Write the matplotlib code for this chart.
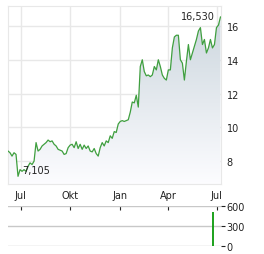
import matplotlib
matplotlib.use("Agg")
import matplotlib.pyplot as plt
import matplotlib.dates as mdates
import numpy as np
import pandas as pd

# price series, roughly every 4 days from early June to early July next year
start_date = "2024-06-07"
end_date = "2025-07-08"
prices = [
    8.6, 8.5, 8.3, 8.5, 8.4, 7.105, 7.5, 7.4, 7.5, 7.4, 7.7, 7.9, 7.8, 8.0,
    9.1, 8.6, 8.7, 8.9, 9.0, 9.1, 9.25, 9.15, 9.2, 9.0, 8.9, 8.7, 8.65, 8.6,
    8.4, 8.45, 8.8, 8.95, 9.0, 8.8, 9.15, 8.75, 9.0, 8.7, 8.95, 8.75, 8.9,
    8.6, 8.55, 8.75, 8.45, 8.3, 8.8, 9.1, 8.9, 9.2, 9.1, 9.5, 9.35, 9.75,
    9.7, 10.2, 10.35, 10.4, 10.35, 10.4, 10.45, 10.9, 11.5, 11.45, 11.9, 11.2,
    13.6, 14.0, 13.3, 13.05, 13.1, 13.0, 13.1, 13.6, 13.4, 14.0, 13.6, 13.1,
    12.9, 12.8, 13.4, 13.4, 14.7, 15.35, 15.45, 15.45, 14.0, 13.8, 12.8, 13.9,
    14.9, 14.0, 14.4, 14.8, 15.2, 15.7, 15.9, 14.9, 15.2, 14.4, 14.7, 15.2,
    14.7, 14.9, 15.9, 16.05, 16.53,
]
# volume: only one day traded noticeably
volume_date = "2025-06-25"
volume_value = 510
min_label = "7,105"
max_label = "16,530"

price_ticks = [8, 10, 12, 14, 16]
volume_ticks = [0, 300, 600]
month_ticks = ["2024-07-01", "2024-10-01", "2025-01-01", "2025-04-01", "2025-07-01"]
month_labels = ["Jul", "Okt", "Jan", "Apr", "Jul"]

dates = pd.date_range(start_date, end_date, periods=len(prices))
p = np.array(prices)
tick_dates = pd.to_datetime(month_ticks)

W, H = 264, 255
fig = plt.figure(figsize=(W / 100, H / 100), dpi=100)
ax = fig.add_axes([8 / W, 1 - 185 / H, 213 / W, 178 / H])
axv = fig.add_axes([8 / W, 1 - 247 / H, 213 / W, 40 / H])

grid_c = "#e8e8e8"
txt_c = "#222222"
line_c = "#3f9f3f"

ymin, ymax = 6.65, 17.18
x0, x1 = dates[0], dates[-1] + pd.Timedelta(days=1)

# gradient fill under the line
poly = ax.fill_between(dates, p, ymin, color="none", lw=0)
grad = np.linspace(1, 0, 256).reshape(-1, 1)
top = np.array([0.80, 0.84, 0.87])
bot = np.array([0.99, 0.99, 1.0])
img = top * grad[..., None] + bot * (1 - grad[..., None])
im = ax.imshow(img, aspect="auto", origin="upper",
               extent=[mdates.date2num(x0), mdates.date2num(x1), ymin, p.max()],
               zorder=1)
path = poly.get_paths()[0]
im.set_clip_path(path, transform=ax.transData)

ax.plot(dates, p, color=line_c, lw=0.9, zorder=3)

ax.set_xlim(x0, x1)
ax.set_ylim(ymin, ymax)
ax.set_xticks(tick_dates)
ax.set_xticklabels(month_labels)
ax.set_yticks(price_ticks)
ax.yaxis.tick_right()
ax.tick_params(axis="both", length=0, labelsize=7, colors=txt_c)
ax.tick_params(axis="y", pad=4)
ax.tick_params(axis="x", pad=4)
ax.grid(True, color=grid_c, lw=1, zorder=0)
ax.set_axisbelow(True)
for s in ax.spines.values():
    s.set_color(grid_c)

imin = int(np.argmin(p))
ax.annotate(min_label, (dates[imin], p[imin]), xytext=(3, 4.5),
            textcoords="offset points", ha="left", va="center",
            fontsize=7, color=txt_c, zorder=4)
ax.annotate(max_label, (dates[-1], p[-1]), xytext=(-4, 1),
            textcoords="offset points", ha="right", va="center",
            fontsize=7, color=txt_c, zorder=4)

# volume panel
axv.vlines([pd.Timestamp(volume_date)], 0, [volume_value], lw=1.3,
           color="#0a9a0a", zorder=3)
axv.set_xlim(x0, x1)
axv.set_ylim(0, 600)
axv.set_yticks(volume_ticks)
axv.yaxis.tick_right()
axv.set_xticks(tick_dates)
axv.xaxis.tick_top()
axv.set_xticklabels([])
axv.tick_params(axis="x", direction="in", length=3, width=0.8, colors=txt_c)
axv.tick_params(axis="y", length=3, width=0.8, pad=1, labelsize=7, colors=txt_c)
axv.grid(True, axis="y", color="#c8c8c8", lw=1, zorder=0)
for s in axv.spines.values():
    s.set_visible(False)

fig.savefig("out.png", dpi=100)
